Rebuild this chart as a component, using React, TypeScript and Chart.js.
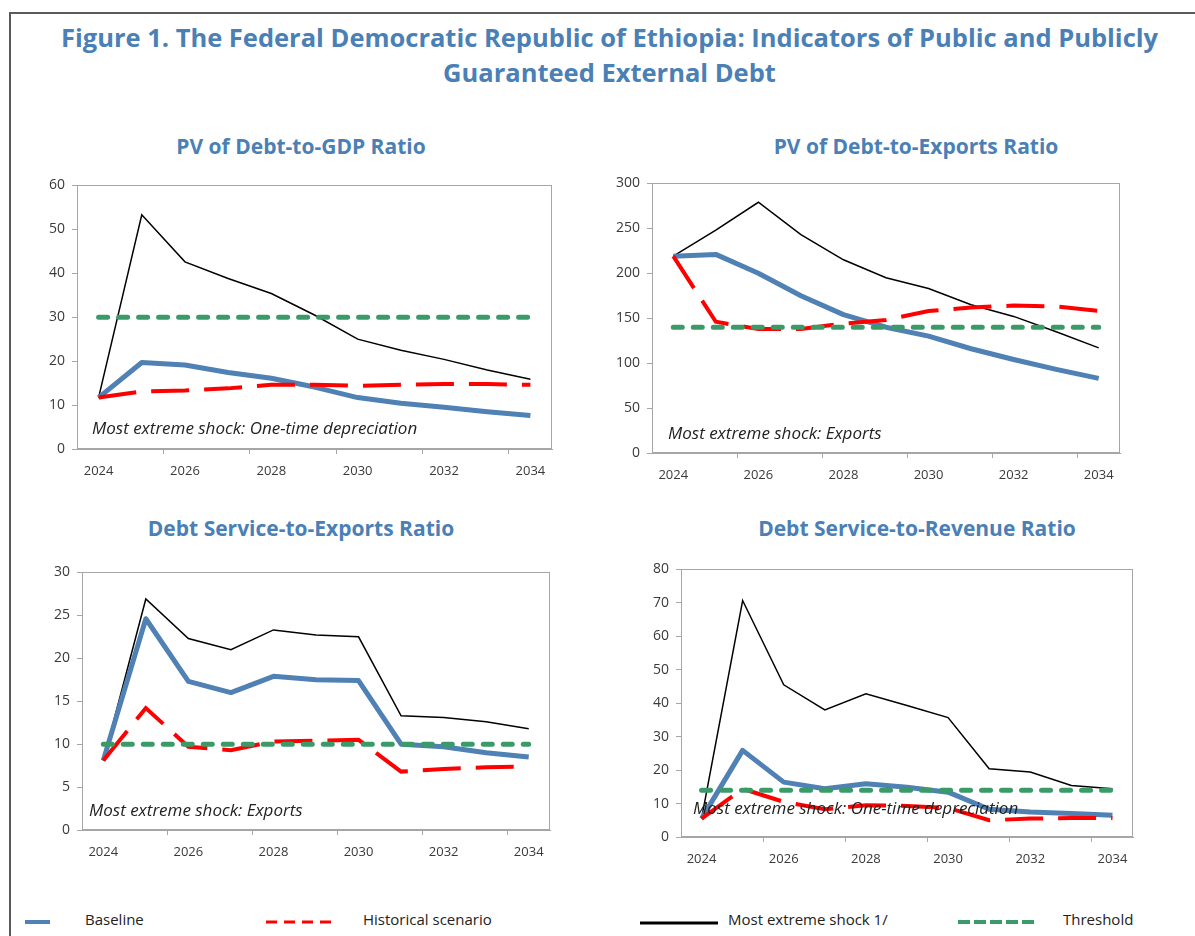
import React, { useEffect, useRef } from 'react';
import { Chart, registerables } from 'chart.js';

Chart.register(...registerables);

// ---------- data ----------
const years = ['2024', '2025', '2026', '2027', '2028', '2029', '2030', '2031', '2032', '2033', '2034'];

// PV of Debt-to-GDP Ratio
const gdpBaseline = [11.7, 19.7, 19.1, 17.4, 16.1, 14.1, 11.7, 10.4, 9.5, 8.5, 7.6];
const gdpHistorical = [11.7, 13.1, 13.3, 13.8, 14.6, 14.6, 14.4, 14.6, 14.8, 14.8, 14.6];
const gdpShock = [11.7, 53.3, 42.6, 38.8, 35.4, 30.5, 25.0, 22.5, 20.4, 18.0, 15.9];
const gdpThreshold = [30, 30, 30, 30, 30, 30, 30, 30, 30, 30, 30];

// PV of Debt-to-Exports Ratio
const pvxBaseline = [219, 221, 200, 175, 154, 140, 130, 116, 104, 93, 83];
const pvxHistorical = [219, 146, 138, 138, 144, 148, 158, 162, 164, 163, 158];
const pvxShock = [219, 248, 279, 243, 215, 195, 183, 165, 152, 135, 117];
const pvxThreshold = [140, 140, 140, 140, 140, 140, 140, 140, 140, 140, 140];

// Debt Service-to-Exports Ratio
const dsxBaseline = [8.1, 24.6, 17.3, 16.0, 17.9, 17.5, 17.4, 10.0, 9.7, 9.0, 8.5];
const dsxHistorical = [8.1, 14.2, 9.7, 9.3, 10.3, 10.4, 10.5, 6.8, 7.1, 7.3, 7.4];
const dsxShock = [8.1, 26.9, 22.3, 21.0, 23.3, 22.7, 22.5, 13.3, 13.1, 12.6, 11.8];
const dsxThreshold = [10, 10, 10, 10, 10, 10, 10, 10, 10, 10, 10];

// Debt Service-to-Revenue Ratio
const dsrBaseline = [5.5, 25.9, 16.4, 14.4, 15.9, 14.9, 13.4, 8.3, 7.5, 7.0, 6.5];
const dsrHistorical = [5.5, 14.4, 10.5, 8.3, 9.5, 9.3, 8.7, 5.0, 5.5, 5.7, 5.7];
const dsrShock = [5.5, 70.7, 45.5, 38.0, 42.8, 39.3, 35.7, 20.4, 19.4, 15.4, 14.4];
const dsrThreshold = [14, 14, 14, 14, 14, 14, 14, 14, 14, 14, 14];

const panelTitles = [
  'PV of Debt-to-GDP Ratio',
  'PV of Debt-to-Exports Ratio',
  'Debt Service-to-Exports Ratio',
  'Debt Service-to-Revenue Ratio',
];
const shockNotes = [
  'Most extreme shock: One-time depreciation',
  'Most extreme shock: Exports',
  'Most extreme shock: Exports',
  'Most extreme shock: One-time depreciation',
];
const yMaxes = [60, 300, 30, 80];
const ySteps = [10, 50, 5, 10];

const figureTitle1 = 'Figure 1. The Federal Democratic Republic of Ethiopia: Indicators of Public and Publicly';
const figureTitle2 = 'Guaranteed External Debt';
const legendLabels = ['Baseline', 'Historical scenario', 'Most extreme shock 1/', 'Threshold'];

// ---------- styles ----------
const FONT = '"Open Sans", "DejaVu Sans", sans-serif';
const TITLE_BLUE = '#4a80b6';
const BLUE = '#4f81b5';
const RED = '#ff0000';
const GREEN = '#3a9a68';
const AXIS = '#a6a6a6';
const TICK_TEXT = '#3a3a3a';

type Box = { l: number; t: number; r: number; b: number };

const layouts: { box: Box; titleX: number; titleY: number; noteX: number; noteY: number }[] = [
  { box: { l: 77, t: 185, r: 552, b: 449 }, titleX: 301, titleY: 146, noteX: 92, noteY: 428 },
  { box: { l: 652, t: 183, r: 1120, b: 453 }, titleX: 916, titleY: 146, noteX: 668, noteY: 433 },
  { box: { l: 82, t: 572, r: 550, b: 830 }, titleX: 301, titleY: 528, noteX: 89, noteY: 810 },
  { box: { l: 681, t: 569, r: 1133, b: 837 }, titleX: 917, titleY: 528, noteX: 693, noteY: 808 },
];

const seriesSets = [
  [gdpBaseline, gdpHistorical, gdpShock, gdpThreshold],
  [pvxBaseline, pvxHistorical, pvxShock, pvxThreshold],
  [dsxBaseline, dsxHistorical, dsxShock, dsxThreshold],
  [dsrBaseline, dsrHistorical, dsrShock, dsrThreshold],
];

const YW = 50;
const XH = 36;
const PT = 15;
const PR = 12;
const TOP_FIX = 3;

const framePlugin = {
  id: 'frame',
  beforeDatasetsDraw(chart: any) {
    const { ctx, chartArea: a } = chart;
    ctx.save();
    ctx.strokeStyle = AXIS;
    ctx.lineWidth = 1;
    ctx.strokeRect(Math.round(a.left) + 0.5, Math.round(a.top) + 0.5, Math.round(a.right - a.left) - 1, Math.round(a.bottom - a.top) - 1);
    ctx.restore();
  },
};

function Panel({ idx }: { idx: number }) {
  const ref = useRef<HTMLCanvasElement>(null);
  const { box } = layouts[idx];
  const w = box.r - box.l + YW + PR;
  const h = box.b - box.t + PT + XH;

  useEffect(() => {
    const [baseline, historical, shock, threshold] = seriesSets[idx];
    const chart = new Chart(ref.current as HTMLCanvasElement, {
      type: 'line',
      data: {
        labels: years,
        datasets: [
          {
            label: legendLabels[3],
            data: threshold,
            borderColor: GREEN,
            borderWidth: 5,
            borderDash: [9, 11],
            borderCapStyle: 'round',
            pointRadius: 0,
            order: 0,
          },
          {
            label: legendLabels[1],
            data: historical,
            borderColor: RED,
            borderWidth: 4,
            borderDash: [38, 15],
            pointRadius: 0,
            order: 1,
          },
          {
            label: legendLabels[0],
            data: baseline,
            borderColor: BLUE,
            borderWidth: 5,
            borderJoinStyle: 'round',
            pointRadius: 0,
            order: 2,
          },
          {
            label: legendLabels[2],
            data: shock,
            borderColor: '#000000',
            borderWidth: 1.5,
            pointRadius: 0,
            order: 3,
          },
        ],
      },
      options: {
        animation: false,
        responsive: false,
        maintainAspectRatio: false,
        layout: { padding: { top: PT - TOP_FIX, right: PR, left: 0, bottom: 0 } },
        plugins: {
          legend: { display: false },
          tooltip: { enabled: false },
          title: { display: false },
        },
        scales: {
          x: {
            offset: true,
            grid: {
              offset: true,
              drawOnChartArea: false,
              drawTicks: true,
              tickLength: 5,
              color: (c: any) =>
                c.index !== undefined && c.index % 2 === 0 && c.index > 0 ? AXIS : 'rgba(0,0,0,0)',
            },
            border: { color: AXIS, width: 1 },
            ticks: {
              autoSkip: false,
              maxRotation: 0,
              minRotation: 0,
              padding: 9,
              color: TICK_TEXT,
              font: { family: FONT, size: 13 },
              callback: (_v: any, i: number) => (i % 2 === 0 ? years[i] : ''),
            },
            afterFit: (s: any) => {
              s.height = XH;
            },
          },
          y: {
            min: 0,
            max: yMaxes[idx],
            ticks: {
              stepSize: ySteps[idx],
              padding: 7,
              color: TICK_TEXT,
              font: { family: FONT, size: 14 },
            },
            grid: { drawOnChartArea: false, drawTicks: true, tickLength: 5, color: AXIS },
            border: { color: AXIS, width: 1 },
            afterFit: (s: any) => {
              s.width = YW;
            },
          },
        },
      },
      plugins: [framePlugin],
    } as any);
    return () => chart.destroy();
  }, [idx]);

  return (
    <canvas
      ref={ref}
      width={w}
      height={h}
      style={{ position: 'absolute', left: box.l - YW, top: box.t - PT, width: w, height: h }}
    />
  );
}

function LegendLine({ x1, x2, y, color, width, dash }: { x1: number; x2: number; y: number; color: string; width: number; dash?: string }) {
  return (
    <svg style={{ position: 'absolute', left: x1, top: y - 5, overflow: 'visible' }} width={x2 - x1} height={10}>
      <line x1={0} y1={5} x2={x2 - x1} y2={5} stroke={color} strokeWidth={width} strokeDasharray={dash} />
    </svg>
  );
}

export default function App() {
  const textBase: React.CSSProperties = { position: 'absolute', fontFamily: FONT, whiteSpace: 'nowrap' };
  return (
    <div
      style={{
        position: 'absolute',
        left: 0,
        top: 0,
        width: 1195,
        height: 936,
        background: '#ffffff',
        overflow: 'hidden',
      }}
    >
      {/* frame lines */}
      <div style={{ position: 'absolute', left: 9, top: 12, width: 1186, height: 2, background: '#5a5a5a' }} />
      <div style={{ position: 'absolute', left: 9, top: 12, width: 2, height: 924, background: '#5a5a5a' }} />

      {/* figure title */}
      <div
        style={{
          ...textBase,
          left: 0,
          width: 1219,
          top: 20,
          textAlign: 'center',
          color: TITLE_BLUE,
          fontWeight: 700,
          fontSize: 25.5,
          lineHeight: '35px',
        }}
      >
        {figureTitle1}
        <br />
        {figureTitle2}
      </div>

      {layouts.map((L, i) => (
        <div
          key={'t' + i}
          style={{
            ...textBase,
            left: L.titleX - 200,
            width: 400,
            top: L.titleY - 13,
            lineHeight: '26px',
            textAlign: 'center',
            color: TITLE_BLUE,
            fontWeight: 700,
            fontSize: 21,
          }}
        >
          {panelTitles[i]}
        </div>
      ))}

      {layouts.map((_L, i) => (
        <Panel key={'p' + i} idx={i} />
      ))}

      {layouts.map((L, i) => (
        <div
          key={'n' + i}
          style={{
            ...textBase,
            left: L.noteX,
            top: L.noteY - 12,
            lineHeight: '24px',
            fontStyle: 'italic',
            fontSize: 17,
            color: '#222222',
          }}
        >
          {shockNotes[i]}
        </div>
      ))}

      {/* legend */}
      <LegendLine x1={25} x2={50} y={922} color={BLUE} width={4} />
      <div style={{ ...textBase, left: 85, top: 907, lineHeight: '24px', fontSize: 15, color: '#222' }}>{legendLabels[0]}</div>
      <LegendLine x1={266} x2={334} y={922} color={RED} width={3} dash="11 7" />
      <div style={{ ...textBase, left: 363, top: 907, lineHeight: '24px', fontSize: 15, color: '#222' }}>{legendLabels[1]}</div>
      <LegendLine x1={640} x2={718} y={923} color="#000000" width={3} />
      <div style={{ ...textBase, left: 728, top: 907, lineHeight: '24px', fontSize: 15, color: '#222' }}>{legendLabels[2]}</div>
      <LegendLine x1={958} x2={1035} y={922} color={GREEN} width={4} dash="12 4" />
      <div style={{ ...textBase, left: 1063, top: 907, lineHeight: '24px', fontSize: 15, color: '#222' }}>{legendLabels[3]}</div>
    </div>
  );
}
